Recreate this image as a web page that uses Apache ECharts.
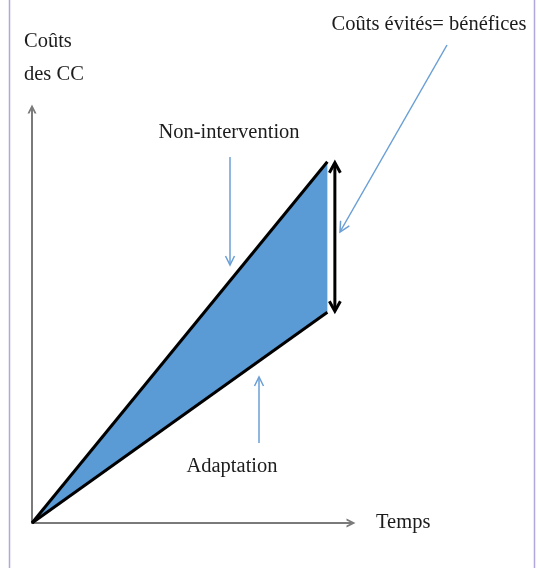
<!DOCTYPE html>
<html>
<head>
<meta charset="utf-8">
<script src="https://cdn.jsdelivr.net/npm/echarts@6/dist/echarts.min.js"></script>
<style>
html, body { margin: 0; padding: 0; background: #fff; }
#main { width: 537px; height: 568px; }
</style>
</head>
<body>
<div id="main"></div>
<script>
// temps et coûts des CC (unités arbitraires)
var temps = [0, 10];
var nonIntervention = [0, 9.6];
var adaptation = [0, 5.6];

var serif = 'Liberation Serif';
var police = '20.5px "Liberation Serif"';
var bleu = '#6a9fd6';
var texte = '#1c1c1c';
var fleche = 'path://M0,10 L5,0 L10,10 L7.8,10 L5,4.2 L2.2,10 Z';

function pairs(ys) {
    return temps.map(function (t, i) { return [t, ys[i]]; });
}

var chart = echarts.init(document.getElementById('main'));

var option = {
    animation: false,
    grid: { left: 32, right: 186, top: 109, bottom: 45 },
    xAxis: {
        type: 'value',
        min: 0,
        max: 10.8,
        axisLine: {
            show: true,
            lineStyle: { color: '#7a7a7a', width: 2 },
            symbol: ['none', fleche],
            symbolSize: [11, 9]
        },
        axisTick: { show: false },
        axisLabel: { show: false },
        splitLine: { show: false },
        name: 'Temps',
        nameLocation: 'end',
        nameGap: 25,
        nameTextStyle: { fontFamily: serif, fontSize: 20.5, color: texte }
    },
    yAxis: {
        type: 'value',
        min: 0,
        max: 11,
        axisLine: {
            show: true,
            lineStyle: { color: '#7a7a7a', width: 2 },
            symbol: ['none', fleche],
            symbolSize: [11, 9]
        },
        axisTick: { show: false },
        axisLabel: { show: false },
        splitLine: { show: false }
    },
    graphic: [
        // cadre
        { type: 'line', shape: { x1: 9.5, y1: 0, x2: 9.5, y2: 568 }, style: { stroke: '#b3a6dc', lineWidth: 1.5 } },
        { type: 'line', shape: { x1: 534.5, y1: 0, x2: 534.5, y2: 568 }, style: { stroke: '#b3a6dc', lineWidth: 1.5 } },
        // titre de l'axe vertical
        { type: 'text', left: 24, top: 25, style: { text: 'Coûts\ndes CC', font: police, lineHeight: 33, fill: texte } },
        // annotations
        { type: 'text', x: 229, y: 133, style: { text: 'Non-intervention', font: police, fill: texte, align: 'center', verticalAlign: 'middle' } },
        { type: 'line', shape: { x1: 230, y1: 157, x2: 230, y2: 264 }, style: { stroke: bleu, lineWidth: 1.5 } },
        { type: 'polyline', shape: { points: [[225.5, 256], [230, 265], [234.5, 256]] }, style: { stroke: bleu, lineWidth: 1.5, fill: null } },

        { type: 'text', x: 232, y: 467, style: { text: 'Adaptation', font: police, fill: texte, align: 'center', verticalAlign: 'middle' } },
        { type: 'line', shape: { x1: 259, y1: 443, x2: 259, y2: 378 }, style: { stroke: bleu, lineWidth: 1.5 } },
        { type: 'polyline', shape: { points: [[254.5, 386], [259, 377], [263.5, 386]] }, style: { stroke: bleu, lineWidth: 1.5, fill: null } },

        { type: 'text', x: 429, y: 25, style: { text: 'Coûts évités= bénéfices', font: police, fill: texte, align: 'center', verticalAlign: 'middle' } },
        { type: 'line', shape: { x1: 447, y1: 45, x2: 340.5, y2: 231 }, style: { stroke: bleu, lineWidth: 1.5 } },
        { type: 'polyline', shape: { points: [[349.3, 225.8], [340, 232], [340.6, 220.8]] }, style: { stroke: bleu, lineWidth: 1.5, fill: null } }
    ],
    series: [
        {
            // surface entre les deux trajectoires
            type: 'custom',
            data: [[temps[temps.length - 1], nonIntervention[nonIntervention.length - 1]]],
            z: 1,
            renderItem: function (params, api) {
                var pts = [];
                for (var i = 0; i < temps.length; i++) pts.push(api.coord([temps[i], nonIntervention[i]]));
                for (var j = temps.length - 1; j >= 0; j--) pts.push(api.coord([temps[j], adaptation[j]]));
                return { type: 'polygon', shape: { points: pts }, style: { fill: '#5b9bd5' } };
            }
        },
        {
            name: 'Non-intervention',
            type: 'line',
            data: pairs(nonIntervention),
            symbol: 'none',
            z: 3,
            lineStyle: { color: '#000', width: 3 }
        },
        {
            name: 'Adaptation',
            type: 'line',
            data: pairs(adaptation),
            symbol: 'none',
            z: 3,
            lineStyle: { color: '#000', width: 3 }
        },
        {
            // double flèche : coûts évités
            type: 'custom',
            data: [[temps[temps.length - 1], adaptation[adaptation.length - 1]]],
            z: 4,
            renderItem: function (params, api) {
                var n = temps.length - 1;
                var top = api.coord([temps[n], nonIntervention[n]]);
                var bot = api.coord([temps[n], adaptation[n]]);
                var x = top[0] + 7.5;
                var st = { stroke: '#000', lineWidth: 3, fill: null };
                return {
                    type: 'group',
                    children: [
                        { type: 'line', shape: { x1: x, y1: top[1] + 2, x2: x, y2: bot[1] - 2 }, style: st },
                        { type: 'polyline', shape: { points: [[x - 5.5, top[1] + 11], [x, top[1] + 1], [x + 5.5, top[1] + 11]] }, style: st },
                        { type: 'polyline', shape: { points: [[x - 5.5, bot[1] - 11], [x, bot[1] - 1], [x + 5.5, bot[1] - 11]] }, style: st }
                    ]
                };
            }
        }
    ]
};

chart.setOption(option);
window.addEventListener('resize', function () {
    chart.resize();
});
</script>
</body>
</html>
